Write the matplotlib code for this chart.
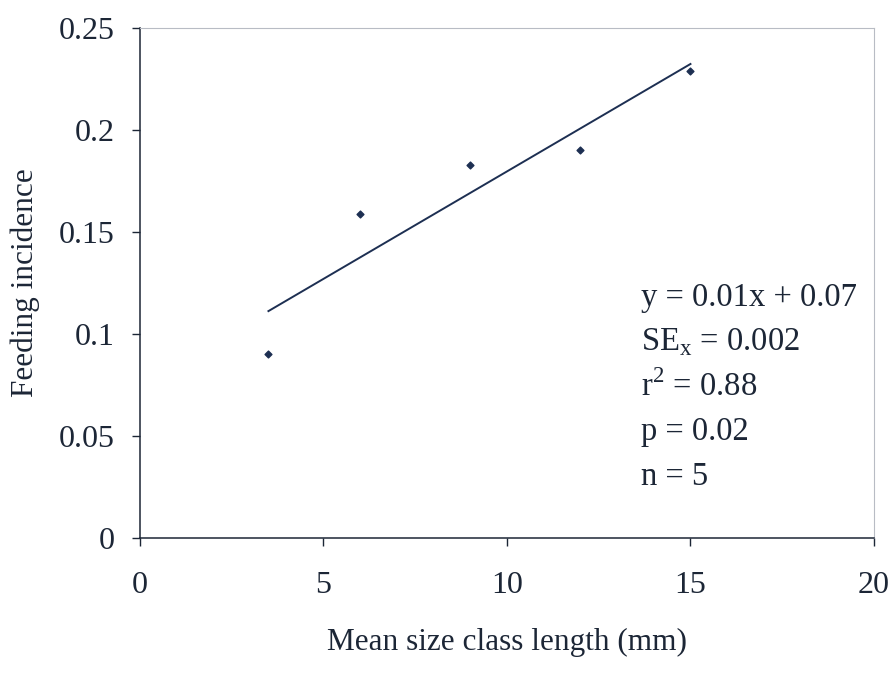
import numpy as np
import matplotlib
matplotlib.use("Agg")
import matplotlib.pyplot as plt

# size class midpoints (mm) and feeding incidence
size_mm = [3.5, 6, 9, 12, 15]
feeding = [0.090, 0.159, 0.183, 0.190, 0.229]

x_ticks = [0, 5, 10, 15, 20]
y_ticks = [0, 0.05, 0.1, 0.15, 0.2, 0.25]
y_tick_labels = ["0", "0.05", "0.1", "0.15", "0.2", "0.25"]

stats_lines = ["y = 0.01x + 0.07",
               r"SE$_\mathregular{x}$ = 0.002",
               r"r$^\mathregular{2}$ = 0.88",
               "p = 0.02",
               "n = 5"]

ink = "#1c2636"
navy = "#1d2f52"

plt.rcParams["font.family"] = ["Liberation Serif", "DejaVu Serif"]
plt.rcParams["mathtext.fontset"] = "custom"
plt.rcParams["mathtext.rm"] = "Liberation Serif"

fig = plt.figure(figsize=(8.95, 6.74), dpi=100)
ax = fig.add_axes([0.1564, 0.2018, 0.8201, 0.7567])

ax.scatter(size_mm, feeding, marker="D", s=12, color=navy, zorder=3)

# least squares trend line over the range of the data
slope, intercept = np.polyfit(size_mm, feeding, 1)
xs = np.array([min(size_mm), max(size_mm)])
ax.plot(xs, slope * xs + intercept, color=navy, lw=1.4)

ax.set_xlim(0, 20)
ax.set_ylim(0, 0.25)
ax.set_xticks(x_ticks)
ax.set_xticklabels([str(t) for t in x_ticks])
ax.set_yticks(y_ticks)
ax.set_yticklabels(y_tick_labels)

for side in ["top", "right"]:
    ax.spines[side].set_color("#b8bcc4")
    ax.spines[side].set_linewidth(0.8)
    ax.spines[side].set_linestyle((0, (1, 1)))
for side in ["left", "bottom"]:
    ax.spines[side].set_color(ink)
    ax.spines[side].set_linewidth(1.1)

ax.tick_params(axis="both", direction="out", length=6, width=1.0,
               color=ink, labelcolor=ink, labelsize=23)
ax.tick_params(axis="x", pad=18)
ax.tick_params(axis="y", pad=12)

ax.set_xlabel("Mean size class length (mm)", fontsize=22.5, color=ink, labelpad=20)
ax.set_ylabel("Feeding incidence", fontsize=22.5, color=ink, labelpad=14)

for i, line in enumerate(stats_lines):
    ax.text(0.682, 0.472 - i * 0.088, line, transform=ax.transAxes,
            fontsize=23.5, color=ink, va="center", ha="left")

fig.savefig("out.png", dpi=100, facecolor="white")
